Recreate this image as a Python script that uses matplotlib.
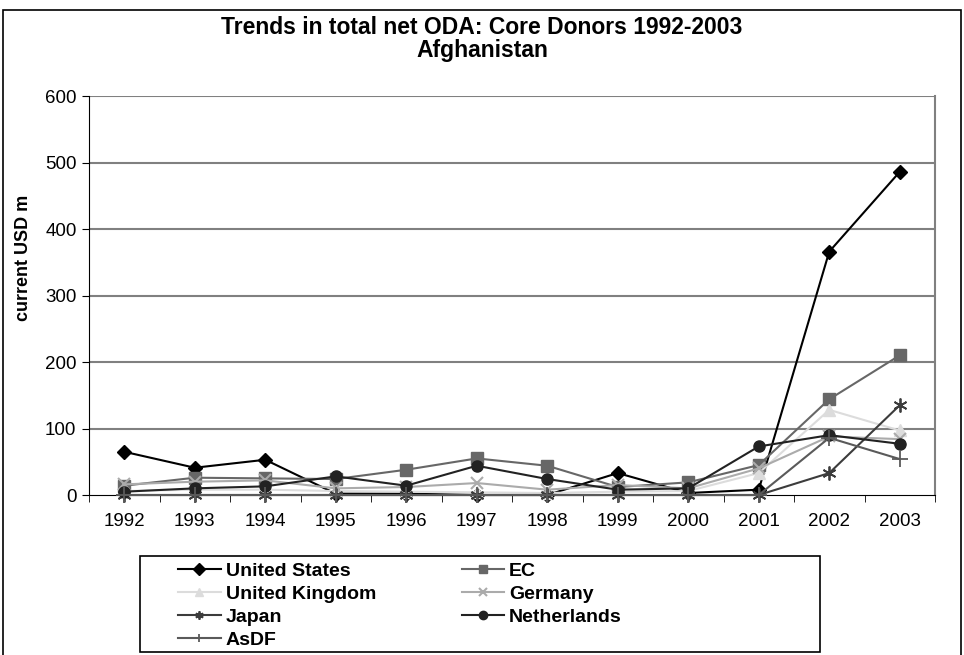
import matplotlib
matplotlib.use("Agg")
import matplotlib.pyplot as plt
from matplotlib.patches import Rectangle

plt.rcParams['font.family'] = ['Liberation Sans', 'DejaVu Sans']

years = ['1992', '1993', '1994', '1995', '1996', '1997', '1998', '1999', '2000', '2001', '2002', '2003']
united_states = [65, 41, 53, 2, 2, 0, 0, 33, 3, 8, 366, 486]
ec = [14, 26, 25, 24, 38, 55, 44, 12, 19, 45, 144, 210]
united_kingdom = [6, 8, 8, 6, 5, 4, 3, 5, 6, 33, 128, 97]
germany = [16, 20, 22, 10, 12, 18, 8, 15, 10, 40, 88, 84]
japan = [0, 0, 0, 0, 0, 0, 0, 0, 0, 0, 33, 135]
netherlands = [5, 10, 13, 28, 14, 44, 24, 8, 10, 73, 90, 77]
asdf = [0, 0, 0, 0, 0, 0, 0, 0, 0, 0, 86, 54]

yticks = [0, 100, 200, 300, 400, 500, 600]

fig = plt.figure(figsize=(9.64, 6.55), dpi=100)
fig.patches.append(Rectangle((3/964, -0.01), 958/964, 1 - 10/655 + 0.01,
                             transform=fig.transFigure, fill=False,
                             edgecolor='black', lw=1.2))
fig.patches.append(Rectangle((140/964, 1 - 652/655), 680/964, 96/655,
                             transform=fig.transFigure, fill=False,
                             edgecolor='black', lw=1.2))
ax = fig.add_axes([89/964, 1 - 495/655, 846/964, 399/655])

x = list(range(len(years)))
series = [
    ('United States', united_states, dict(color='black', marker='D', ms=7, mfc='black', mec='black')),
    ('EC', ec, dict(color='#676767', marker='s', ms=8, mfc='#676767', mec='#676767')),
    ('United Kingdom', united_kingdom, dict(color='#dcdcdc', marker='^', ms=9, mfc='#dcdcdc', mec='#dcdcdc')),
    ('Germany', germany, dict(color='#ababab', marker='x', ms=9, mew=1.5)),
    ('Japan', japan, dict(color='#3c3c3c', marker=(6, 2, 0), ms=10, mew=1.3)),
    ('Netherlands', netherlands, dict(color='#222222', marker='o', ms=8, mfc='#222222', mec='#222222')),
    ('AsDF', asdf, dict(color='#5a5a5a', marker='+', ms=11, mew=1.3)),
]
handles = {}
for name, vals, st in series:
    h, = ax.plot(x, vals, lw=1.5, label=name, clip_on=False, zorder=3, **st)
    handles[name] = h

ax.set_xlim(-0.5, len(years) - 0.5)
ax.set_ylim(0, 600)
ax.set_yticks(yticks)
ax.set_yticklabels([str(v) for v in yticks], fontsize=13.5)
ax.set_xticks(x)
ax.set_xticklabels(years, fontsize=13.5)
ax.set_xticks([i - 0.5 for i in range(len(years) + 1)], minor=True)
ax.tick_params(axis='x', which='major', length=0, pad=13)
ax.tick_params(axis='x', which='minor', length=5, direction='out', color='black')
ax.tick_params(axis='y', length=5, direction='out', pad=4, color='black')
for v in yticks[1:]:
    ax.axhline(v, color='#808080', lw=1.5, zorder=1)
ax.spines['left'].set_color('black')
ax.spines['bottom'].set_color('black')
ax.spines['right'].set_color('#808080')
ax.spines['right'].set_linewidth(1.5)
ax.spines['top'].set_visible(False)

ax.set_ylabel('current USD m', fontsize=13, fontweight='bold', va='center')
ax.yaxis.set_label_coords(-0.077, 0.594)

fig.text(0.5, 1 - 27/655, 'Trends in total net ODA: Core Donors 1992-2003', ha='center', va='center',
         fontsize=16.5, fontweight='bold')
fig.text(0.5, 1 - 51/655, 'Afghanistan', ha='center', va='center', fontsize=16.5, fontweight='bold')

order = ['United States', 'United Kingdom', 'Japan', 'AsDF', 'EC', 'Germany', 'Netherlands']
leg = fig.legend([handles[n] for n in order], order, ncol=2,
                 loc='upper left', bbox_to_anchor=(178/964, 1 - 562/655),
                 frameon=False, prop={'weight': 'bold', 'size': 14}, labelspacing=0.28,
                 handlelength=2.2, handletextpad=0.25, borderpad=0, columnspacing=4.4,
                 borderaxespad=0)
for h in leg.legend_handles:
    h.set_markersize(6)

fig.savefig('out.png', dpi=100)
